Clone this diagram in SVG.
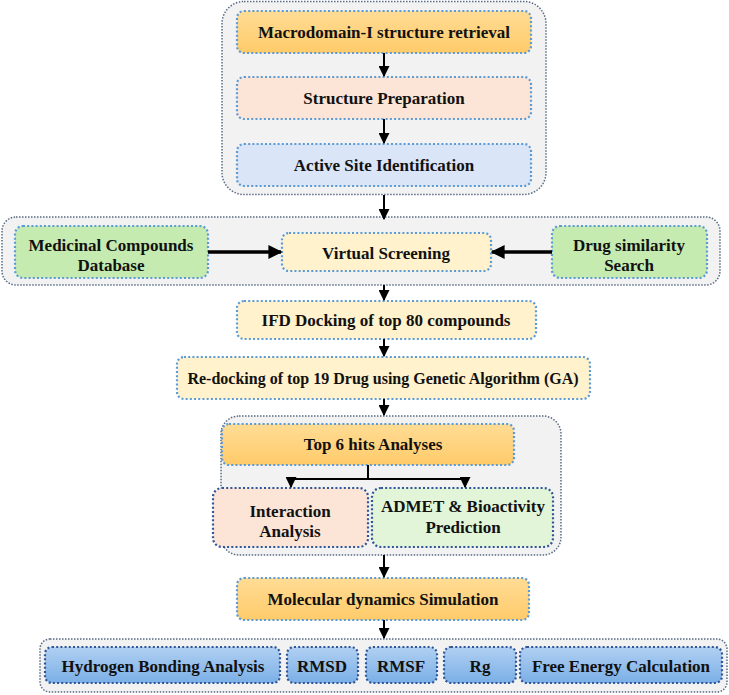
<svg xmlns="http://www.w3.org/2000/svg" width="729" height="695" viewBox="0 0 729 695">
<defs>
<linearGradient id="gOr" x1="0" y1="0" x2="0" y2="1"><stop offset="0" stop-color="#FFDC95"/><stop offset="1" stop-color="#FFCB6A"/></linearGradient>
<linearGradient id="gBl" x1="0" y1="0" x2="0" y2="1"><stop offset="0" stop-color="#B1D0F2"/><stop offset="1" stop-color="#7BAFE6"/></linearGradient>
<marker id="ah" viewBox="0 0 10 10" refX="9" refY="5" markerWidth="5.5" markerHeight="5.5" orient="auto" markerUnits="strokeWidth"><path d="M0,0 L10,5 L0,10 z" fill="#000"/></marker>
<marker id="ah2" viewBox="0 0 10 10" refX="9" refY="5" markerWidth="4" markerHeight="4" orient="auto" markerUnits="strokeWidth"><path d="M0,0 L10,5 L0,10 z" fill="#000"/></marker>
</defs>
<style>
.cont{fill:#F2F2F2;stroke:#5A6B85;stroke-width:1.5;stroke-dasharray:1.5 1.5}
.bx{stroke:#5B9BD5;stroke-width:2.2;stroke-dasharray:2 2.2}
.bxd{stroke:#2F5597;stroke-width:2.2;stroke-dasharray:2 2.2}
text{font-family:"Liberation Serif","Times New Roman",serif;font-weight:bold;font-size:17px;fill:#111;text-anchor:middle;dominant-baseline:central}
.sm{font-size:16px}
.ln{stroke:#000;stroke-width:2;fill:none}
.lnt{stroke:#000;stroke-width:3.5;fill:none}
</style>
<g id="containers">
<rect class="cont" x="222" y="1.5" width="324" height="193" rx="22"/>
<rect class="cont" x="2" y="217" width="718" height="68" rx="14"/>
<rect class="cont" x="221" y="416" width="340" height="139" rx="18"/>
<rect class="cont" x="40" y="639" width="687" height="53" rx="10"/>
</g>
<g id="n1"><rect class="bx" x="237" y="11" width="294" height="42" rx="7" fill="url(#gOr)"/><text x="384" y="32">Macrodomain-I structure retrieval</text></g>
<g id="n2"><rect class="bx" x="237" y="77" width="294" height="42" rx="7" fill="#FCE4D6"/><text x="384" y="98">Structure Preparation</text></g>
<g id="n3"><rect class="bx" x="237" y="144" width="294" height="42" rx="7" fill="#DAE5F8"/><text x="384" y="165">Active Site Identification</text></g>
<g id="n4"><rect class="bx" x="15" y="226" width="193" height="52" rx="8" fill="#C5EBB0"/><text x="111" y="245">Medicinal Compounds</text><text x="111" y="265">Database</text></g>
<g id="n5"><rect class="bx" x="282" y="233" width="209" height="38" rx="7" fill="#FFF2CC"/><text x="386" y="253">Virtual Screening</text></g>
<g id="n6"><rect class="bx" x="552" y="226" width="155" height="52" rx="8" fill="#C5EBB0"/><text x="629" y="245">Drug similarity</text><text x="629" y="265">Search</text></g>
<g id="n7"><rect class="bx" x="237" y="301" width="299" height="38" rx="7" fill="#FFF2CC"/><text x="386" y="320">IFD Docking of top 80 compounds</text></g>
<g id="n8"><rect class="bx" x="177" y="357" width="413" height="42" rx="7" fill="#FFF2CC"/><text class="sm" x="383" y="378">Re-docking of top 19 Drug using Genetic Algorithm (GA)</text></g>
<g id="n9"><rect class="bx" x="222" y="424" width="292" height="41" rx="7" fill="url(#gOr)"/><text x="373" y="444">Top 6 hits Analyses</text></g>
<g id="n10"><rect class="bxd" x="213" y="488" width="155" height="59" rx="9" fill="#FCE4D6"/><text x="290" y="511">Interaction</text><text x="290" y="531">Analysis</text></g>
<g id="n11"><rect class="bxd" x="372" y="488" width="181" height="59" rx="9" fill="#E2F5D9"/><text x="463" y="506">ADMET &amp; Bioactivity</text><text x="463" y="527">Prediction</text></g>
<g id="n12"><rect class="bx" x="237" y="578" width="292" height="42" rx="7" fill="url(#gOr)"/><text x="383" y="599">Molecular dynamics Simulation</text></g>
<g id="n13"><rect class="bxd" x="45" y="647" width="235" height="36" rx="7" fill="url(#gBl)"/><text x="163" y="666">Hydrogen Bonding Analysis</text></g>
<g id="n14"><rect class="bxd" x="287" y="647" width="71" height="36" rx="7" fill="url(#gBl)"/><text x="322" y="666">RMSD</text></g>
<g id="n15"><rect class="bxd" x="366" y="647" width="71" height="36" rx="7" fill="url(#gBl)"/><text x="401" y="666">RMSF</text></g>
<g id="n16"><rect class="bxd" x="444" y="647" width="72" height="36" rx="7" fill="url(#gBl)"/><text x="480" y="666">Rg</text></g>
<g id="n17"><rect class="bxd" x="520" y="647" width="202" height="36" rx="7" fill="url(#gBl)"/><text x="621" y="666">Free Energy Calculation</text></g>
<g id="connectors">
<line class="ln" x1="384" y1="53" x2="384" y2="76" marker-end="url(#ah)"/>
<line class="ln" x1="384" y1="119" x2="384" y2="143" marker-end="url(#ah)"/>
<line class="ln" x1="384" y1="195" x2="384" y2="219" marker-end="url(#ah)"/>
<line class="lnt" x1="208" y1="252" x2="281" y2="252" marker-end="url(#ah2)"/>
<line class="lnt" x1="552" y1="252" x2="492" y2="252" marker-end="url(#ah2)"/>
<line class="ln" x1="384" y1="285" x2="384" y2="300" marker-end="url(#ah)"/>
<line class="ln" x1="384" y1="339" x2="384" y2="356" marker-end="url(#ah)"/>
<line class="ln" x1="384" y1="399" x2="384" y2="415" marker-end="url(#ah)"/>
<polyline class="ln" points="368,465 368,479"/>
<polyline class="ln" points="368,479 291,479 291,487" marker-end="url(#ah)"/>
<polyline class="ln" points="368,479 465,479 465,487" marker-end="url(#ah)"/>
<line class="ln" x1="384" y1="555" x2="384" y2="577" marker-end="url(#ah)"/>
<line class="ln" x1="384" y1="620" x2="384" y2="638" marker-end="url(#ah)"/>
</g>
</svg>
